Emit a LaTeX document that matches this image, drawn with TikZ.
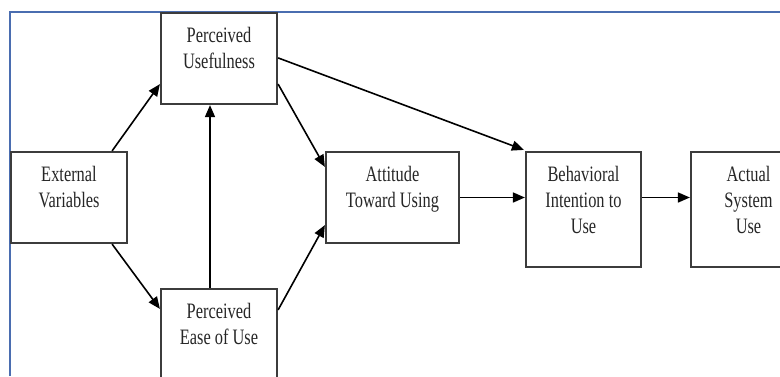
\documentclass[tikz,border=0pt]{standalone}
\usepackage{fontspec}
\setmainfont{Liberation Serif}[FakeStretch=0.745]
\usetikzlibrary{arrows.meta}
\definecolor{frameblue}{HTML}{4A6DB0}
\definecolor{boxline}{HTML}{3C3C3C}
\definecolor{txtgray}{HTML}{262626}
\tikzset{
  box/.style={draw=boxline, line width=2.2pt, fill=white, rectangle, inner sep=0pt},
  boxtext/.style={anchor=north, inner sep=0pt, align=center, text=txtgray,
    font=\fontsize{22}{26}\selectfont, yshift=-15.5pt},
  link/.style={draw=black, line width=1.6pt, -{Triangle[length=12pt,width=10pt]}},
}
\begin{document}
\begin{tikzpicture}[x=1pt, y=-1pt]
  \useasboundingbox (0,0) rectangle (780,376);
  \clip (0,0) rectangle (780,376);
  \fill[white] (0,0) rectangle (780,376);

  % outer frame (top and left edges)
  \draw[frameblue, line width=1.6pt] (10,376) -- (10,12) -- (780,12);

  % boxes
  \node[box, minimum width=116pt, minimum height=91pt]  (PU)   at (219,58.5)   {};
  \node[box, minimum width=116pt, minimum height=91pt]  (EV)   at (69,197.5)   {};
  \node[box, minimum width=116pt, minimum height=91pt]  (PEOU) at (219,334.5)  {};
  \node[box, minimum width=133pt, minimum height=91pt]  (ATT)  at (392.5,197.5) {};
  \node[box, minimum width=115pt, minimum height=115pt] (BI)   at (583.5,209.5) {};
  \node[box, minimum width=115pt, minimum height=115pt] (ASU)  at (748.5,209.5) {};

  % box texts
  \node[boxtext] (tPU)   at (PU.north)   {Perceived\\Usefulness};
  \node[boxtext] (tEV)   at (EV.north)   {External\\Variables};
  \node[boxtext] (tPEOU) at (PEOU.north) {Perceived\\Ease of Use};
  \node[boxtext] (tATT)  at (ATT.north)  {Attitude\\Toward Using};
  \node[boxtext] (tBI)   at (BI.north)   {Behavioral\\Intention to\\Use};
  \node[boxtext] (tASU)  at (ASU.north)  {Actual\\System\\Use};

  % connectors
  \draw[link] ([xshift=-16pt]EV.north east) -- ([yshift=21pt]PU.south west);
  \draw[link] ([xshift=-16pt]EV.south east) -- ([yshift=-21pt]PEOU.north west);
  \draw[link] ([xshift=-9pt]PEOU.north) -- ([xshift=-9pt]PU.south);
  \draw[link] ([yshift=21pt]PU.south east) -- ([yshift=-16pt]ATT.north west);
  \draw[link] ([yshift=-22pt]PEOU.north east) -- ([yshift=19pt]ATT.south west);
  \draw[link] ([yshift=-46pt]PU.north east) -- ([xshift=-1pt,yshift=1pt]BI.north west);
  \draw[link] (ATT.east) -- (ATT.east -| BI.west);
  \draw[link] ([yshift=12pt]BI.east) -- ([yshift=12pt]ASU.west);
\end{tikzpicture}
\end{document}
